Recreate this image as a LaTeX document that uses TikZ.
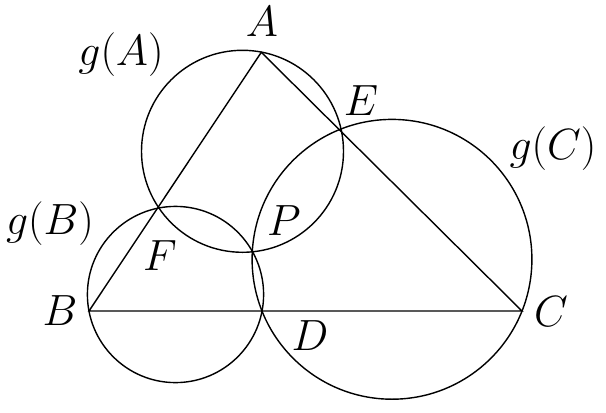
\documentclass[tikz,border=0pt]{standalone}
\usepackage{amsmath}
\usepackage{tikz}

\begin{document}
\begin{tikzpicture}[scale=0.2,line width=0.8pt]
\tikzstyle{every node}+=[inner sep=0pt,font=\fontsize{23}{27}\selectfont]
\useasboundingbox (0,0) rectangle (60.6,-41.2);
\coordinate (A) at (26.13,-5.23);
\coordinate (B) at (8.9,-31.1);
\coordinate (C) at (52.2,-31.1);
\coordinate (D) at (26.2,-31.1);
\coordinate (E) at (34.07,-12.93);
\coordinate (F) at (15.87,-20.83);
\coordinate (P) at (25.23,-25.07);
\draw [black] (A) -- (B) -- (C) -- cycle;
\draw [black] (24.25,-15.13) circle (10.1);
\draw [black] (17.55,-29.45) circle (8.81);
\draw [black] (39.2,-25.93) circle (13.99);
\node (lA) at (26.2,-2.15) {$A$};
\node (lB) at (6.0,-31.1) {$B$};
\node (lC) at (55.1,-31.2) {$C$};
\node (lD) at (31.0,-33.6) {$D$};
\node (lE) at (36.1,-10.1) {$E$};
\node (lF) at (16.0,-25.6) {$F$};
\node (lP) at (28.4,-22.1) {$P$};
\node (gA) at (12.1,-5.5) {$g(A)$};
\node (gB) at (5.0,-22.4) {$g(B)$};
\node (gC) at (55.3,-14.9) {$g(C)$};
\end{tikzpicture}
\end{document}
